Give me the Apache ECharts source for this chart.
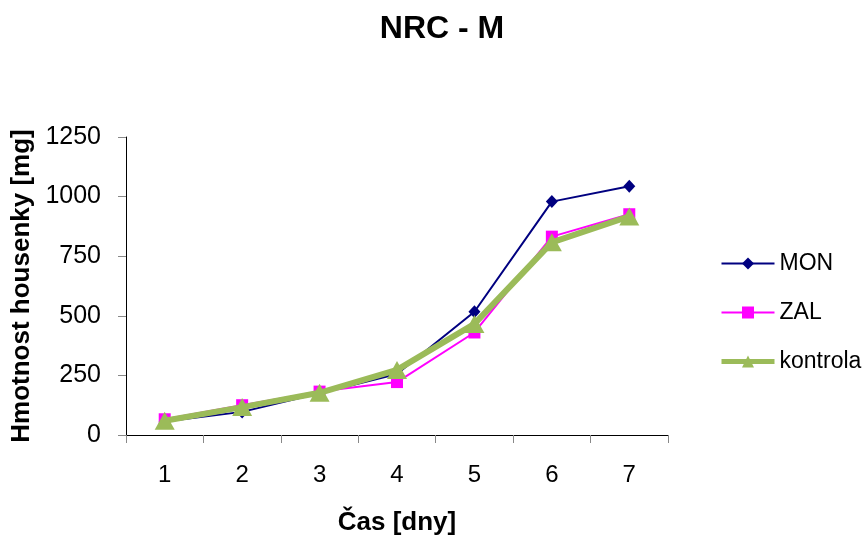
<!DOCTYPE html>
<html>
<head>
<meta charset="utf-8">
<script src="https://cdn.jsdelivr.net/npm/echarts@6/dist/echarts.min.js"></script>
<style>
  html, body { margin: 0; padding: 0; background: #fff; }
  #chart { width: 867px; height: 541px; }
</style>
</head>
<body>
<div id="chart"></div>
<script>
// Days of measurement
const days = ['1', '2', '3', '4', '5', '6', '7'];
// Larval weight [mg] per treatment
const monValues = [57, 97, 175, 256, 517, 979, 1043];
const zalValues = [66, 125, 182, 222, 430, 832, 926];
const kontrolaValues = [60, 117, 177, 273, 466, 808, 917];
// Value axis range
const yMin = 0, yMax = 1250, yStep = 250;

const FONT = '"Liberation Sans", Arial, sans-serif';
const chart = echarts.init(document.getElementById('chart'), null, { renderer: 'canvas' });

chart.setOption({
  backgroundColor: '#ffffff',
  animation: false,
  title: {
    text: 'NRC - M',
    left: 437, top: 8, textAlign: 'center',
    textStyle: { fontFamily: FONT, fontSize: 32, fontWeight: 'bold', color: '#000' }
  },
  legend: {
    orient: 'vertical',
    left: 714, top: 247,
    padding: 5,
    itemGap: 26,
    itemWidth: 53, itemHeight: 15,
    textStyle: { fontFamily: FONT, fontSize: 23, color: '#000' },
    data: [
      { name: 'MON', lineStyle: { width: 2 } },
      { name: 'ZAL', lineStyle: { width: 2 } },
      { name: 'kontrola', lineStyle: { width: 5 } }
    ]
  },
  grid: { left: 126, right: 199, top: 137, bottom: 106, containLabel: false },
  xAxis: {
    type: 'category',
    data: days,
    boundaryGap: true,
    name: 'Čas [dny]',
    nameLocation: 'middle',
    nameGap: 75,
    nameTextStyle: { fontFamily: FONT, fontSize: 26, fontWeight: 'bold', color: '#000' },
    axisLine: { lineStyle: { color: '#000', width: 1 } },
    axisTick: { show: true, inside: false, length: 8, alignWithLabel: false, lineStyle: { color: '#888' } },
    axisLabel: { fontFamily: FONT, fontSize: 24, color: '#000', margin: 28 },
    splitLine: { show: false }
  },
  yAxis: {
    type: 'value',
    min: yMin, max: yMax, interval: yStep,
    name: 'Hmotnost housenky [mg]',
    nameLocation: 'middle',
    nameGap: 91,
    nameRotate: 90,
    nameTextStyle: { fontFamily: FONT, fontSize: 26, fontWeight: 'bold', color: '#000' },
    axisLine: { show: true, lineStyle: { color: '#000', width: 1 } },
    axisTick: { show: true, inside: false, length: 8, lineStyle: { color: '#888' } },
    axisLabel: { fontFamily: FONT, fontSize: 25, color: '#000', margin: 25, formatter: v => String(v) },
    splitLine: { show: false }
  },
  series: [
    {
      name: 'MON', type: 'line', data: monValues,
      symbol: 'diamond', symbolSize: [12, 13],
      lineStyle: { color: '#000080', width: 2 },
      itemStyle: { color: '#000080' },
      z: 2
    },
    {
      name: 'ZAL', type: 'line', data: zalValues,
      symbol: 'rect', symbolSize: 12,
      lineStyle: { color: '#ff00ff', width: 2 },
      itemStyle: { color: '#ff00ff' },
      z: 3
    },
    {
      name: 'kontrola', type: 'line', data: kontrolaValues,
      symbol: 'triangle', symbolSize: [20, 18],
      lineStyle: { color: '#9bbb59', width: 6 },
      itemStyle: { color: '#9bbb59' },
      z: 4
    }
  ]
});
</script>
</body>
</html>
